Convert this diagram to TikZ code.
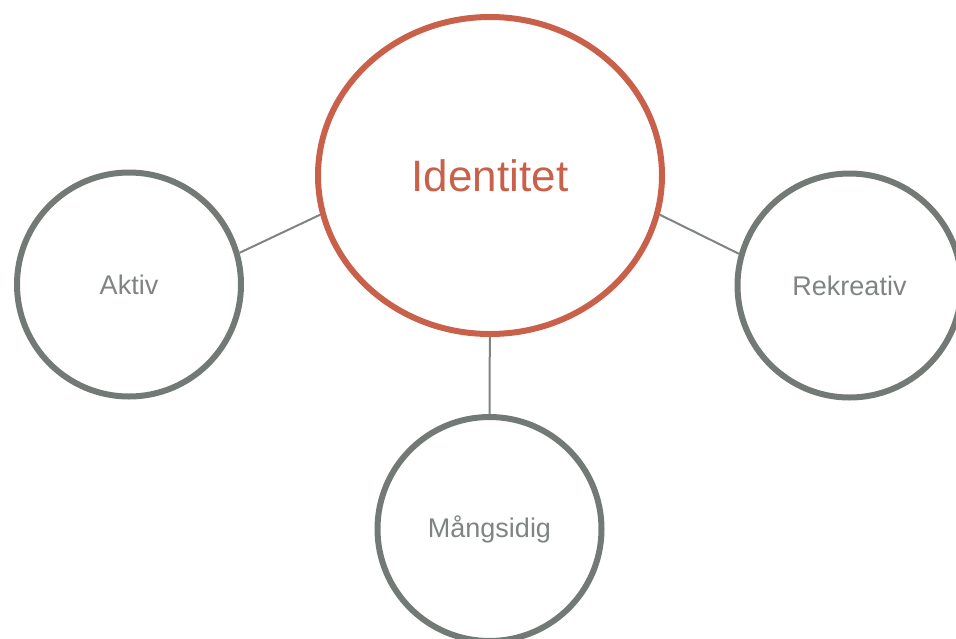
\documentclass[tikz,border=0pt]{standalone}
\usepackage{fontspec}
\setmainfont{Liberation Sans}
\usepackage{tikz}
\usetikzlibrary{shapes.geometric}
\usepackage{xcolor}
\definecolor{identred}{HTML}{C9614A}
\definecolor{ringgray}{HTML}{737A76}
\definecolor{labelgray}{HTML}{7F8482}

\begin{document}
\begin{tikzpicture}[
    x=1pt, y=-1pt,
    every node/.style={inner sep=0pt},
    core/.style={ellipse, draw=identred, line width=6pt, minimum width=344pt, minimum height=317pt, text=identred, font=\fontsize{44}{48}\selectfont},
    ring/.style={circle, draw=ringgray, line width=6pt, minimum size=224pt, text=labelgray, font=\fontsize{27}{30}\selectfont},
    link/.style={draw=labelgray, line width=2pt}
]
    \useasboundingbox (0,0) rectangle (956,638);
    % Centre and three values around it.
    \node[core] (ident) at (490,175.5) {Identitet};
    \node[ring] (aktiv) at (129,284.5) {Aktiv};
    \node[ring] (rekreativ) at (849.5,285.5) {Rekreativ};
    \node[ring] (mangsidig) at (489.5,529) {Mångsidig};

    \path[link]
        (aktiv.16) edge (ident.193)
        (rekreativ.164) edge (ident.-13)
        (mangsidig) edge (ident);
\end{tikzpicture}
\end{document}
